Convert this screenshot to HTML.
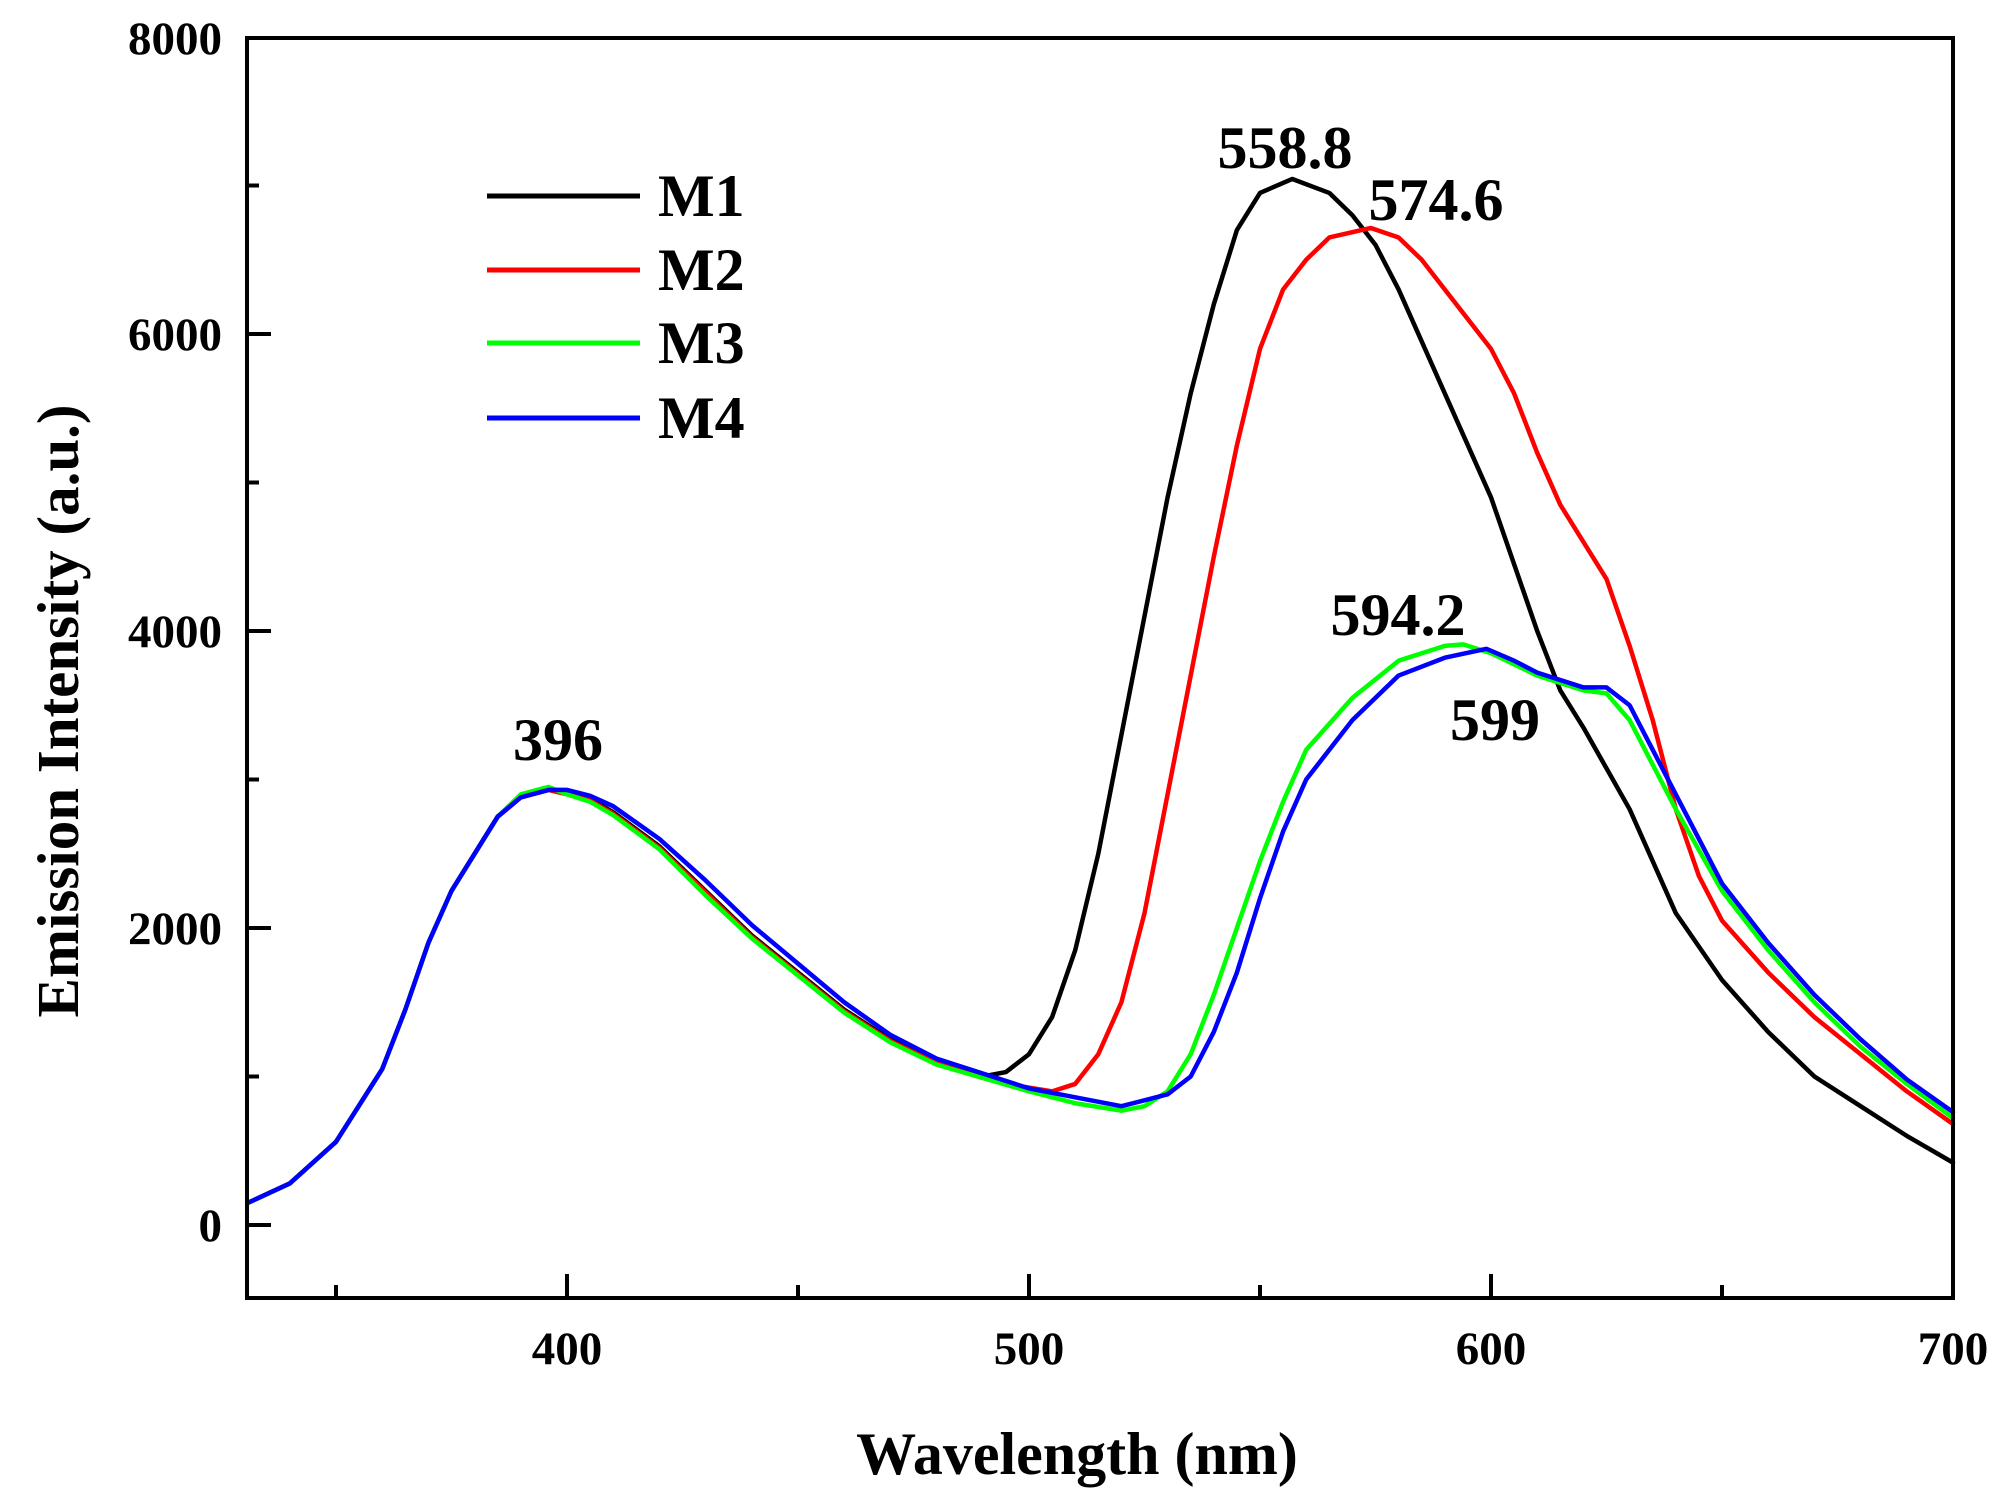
<!DOCTYPE html>
<html><head><meta charset="utf-8"><style>
html,body{margin:0;padding:0;background:#fff;}
svg{display:block;}
text{font-family:"Liberation Serif",serif;font-weight:bold;fill:#000;}
</style></head><body>
<svg width="2000" height="1495" viewBox="0 0 2000 1495" xmlns="http://www.w3.org/2000/svg">
<rect width="2000" height="1495" fill="#fff"/>
<g fill="none" stroke-linejoin="round" stroke-linecap="round">
<g transform="matrix(4.62 0 0 -0.1485 -1281 1225)">
<polyline vector-effect="non-scaling-stroke" stroke="#000" stroke-width="4.5" points="331,150 340,280 350,560 360,1050 365,1450 370,1900 375,2250 380,2500 385,2750 390,2880 396,2930 400,2920 405,2870 410,2780 420,2550 430,2250 440,1950 450,1700 460,1450 470,1250 480,1100 490,1000 495,1030 500,1150 505,1400 510,1850 515,2500 520,3300 525,4100 530,4900 535,5600 540,6200 545,6700 550,6950 557,7044 565,6950 570,6800 575,6600 580,6300 590,5600 600,4900 610,4000 615,3600 620,3350 630,2800 640,2100 650,1650 660,1300 670,1000 680,800 690,600 700,420"/>
<polyline vector-effect="non-scaling-stroke" stroke="#f00" stroke-width="4.5" points="331,150 340,280 350,560 360,1050 365,1450 370,1900 375,2250 380,2500 385,2750 390,2880 396,2930 400,2900 405,2860 410,2770 420,2540 430,2240 440,1940 450,1690 460,1440 470,1240 480,1090 490,990 495,950 505,900 510,950 515,1150 520,1500 525,2100 530,2900 535,3700 540,4500 545,5250 550,5900 555,6300 560,6500 565,6650 574,6714 580,6650 585,6500 590,6300 600,5900 605,5600 610,5200 615,4850 620,4600 625,4350 630,3900 635,3400 640,2800 645,2350 650,2050 660,1700 670,1400 680,1150 690,900 700,680"/>
<polyline vector-effect="non-scaling-stroke" stroke="#0f0" stroke-width="4.5" points="331,150 340,280 350,560 360,1050 365,1450 370,1900 375,2250 380,2500 385,2750 390,2900 396,2950 400,2900 405,2850 410,2760 420,2530 430,2220 440,1930 450,1680 460,1430 470,1230 480,1080 490,990 500,900 510,820 520,770 525,800 530,900 535,1150 540,1550 545,2000 550,2450 555,2850 560,3200 570,3550 580,3800 590,3900 594,3910 600,3850 610,3700 620,3600 625,3580 630,3400 640,2800 650,2250 660,1850 670,1500 680,1200 690,950 700,720"/>
<polyline vector-effect="non-scaling-stroke" stroke="#00f" stroke-width="4.5" points="331,150 340,280 350,560 360,1050 365,1450 370,1900 375,2250 380,2500 385,2750 390,2880 396,2930 400,2930 405,2890 410,2820 420,2600 430,2320 440,2020 450,1760 460,1500 470,1280 480,1120 490,1020 500,920 510,860 520,800 530,880 535,1000 540,1300 545,1700 550,2200 555,2650 560,3000 570,3400 580,3700 590,3820 599,3880 605,3800 610,3720 620,3620 625,3620 630,3500 640,2900 650,2300 660,1900 670,1550 680,1250 690,980 700,760"/>
</g>
</g>
<rect x="247" y="38" width="1706" height="1260" fill="none" stroke="#000" stroke-width="4"/>
<g stroke="#000" stroke-width="4">
<line x1="247" y1="1225" x2="271" y2="1225"/>
<line x1="247" y1="1076.5" x2="259" y2="1076.5"/>
<line x1="247" y1="928" x2="271" y2="928"/>
<line x1="247" y1="779.5" x2="259" y2="779.5"/>
<line x1="247" y1="631" x2="271" y2="631"/>
<line x1="247" y1="482.5" x2="259" y2="482.5"/>
<line x1="247" y1="334" x2="271" y2="334"/>
<line x1="247" y1="185.5" x2="259" y2="185.5"/>
<line x1="336" y1="1298" x2="336" y2="1285"/>
<line x1="567" y1="1298" x2="567" y2="1274"/>
<line x1="798" y1="1298" x2="798" y2="1285"/>
<line x1="1029" y1="1298" x2="1029" y2="1274"/>
<line x1="1260" y1="1298" x2="1260" y2="1285"/>
<line x1="1491" y1="1298" x2="1491" y2="1274"/>
<line x1="1722" y1="1298" x2="1722" y2="1285"/>
</g>
<g font-size="47" text-anchor="end">
<text x="222" y="1241">0</text>
<text x="222" y="944">2000</text>
<text x="222" y="647">4000</text>
<text x="222" y="350">6000</text>
<text x="222" y="54">8000</text>
</g>
<g font-size="47" text-anchor="middle">
<text x="567" y="1364">400</text>
<text x="1029" y="1364">500</text>
<text x="1491" y="1364">600</text>
<text x="1953" y="1364">700</text>
</g>
<text x="1077" y="1474" font-size="60" text-anchor="middle">Wavelength (nm)</text>
<text transform="translate(78,711) rotate(-90)" font-size="59" text-anchor="middle">Emission Intensity (a.u.)</text>
<g stroke-width="5">
<line x1="487" y1="196" x2="640" y2="196" stroke="#000"/>
<line x1="487" y1="270" x2="640" y2="270" stroke="#f00"/>
<line x1="487" y1="343" x2="640" y2="343" stroke="#0f0"/>
<line x1="487" y1="418" x2="640" y2="418" stroke="#00f"/>
</g>
<g font-size="60">
<text x="658" y="216">M1</text>
<text x="658" y="290">M2</text>
<text x="658" y="363">M3</text>
<text x="658" y="438">M4</text>
</g>
<g font-size="60" text-anchor="middle">
<text x="1285" y="168">558.8</text>
<text x="1436" y="220">574.6</text>
<text x="1398" y="635">594.2</text>
<text x="1495" y="740">599</text>
<text x="558" y="760">396</text>
</g>
</svg>
</body></html>
